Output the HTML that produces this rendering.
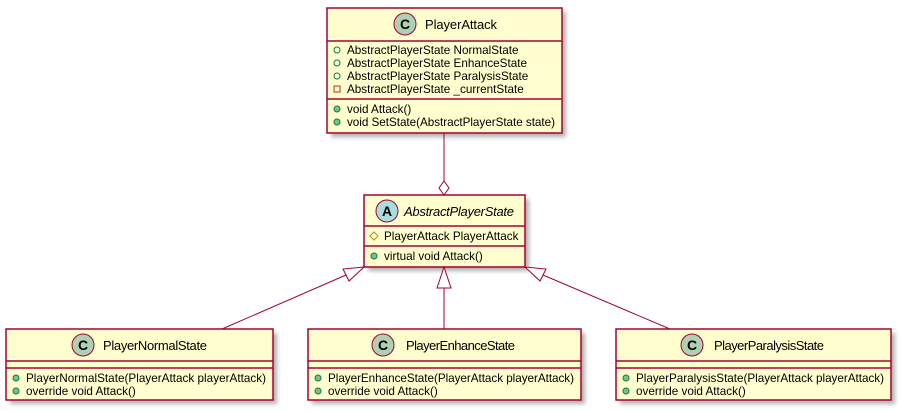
<!DOCTYPE html>
<html><head><meta charset="utf-8"><style>
html,body{margin:0;padding:0;background:#fff;width:901px;height:411px;overflow:hidden}
text{font-family:"Liberation Sans","DejaVu Sans",sans-serif;fill:#000}
.t{font-size:13px}
.m{font-size:11.7px}
</style></head><body>
<svg width="901" height="411" viewBox="0 0 901 411" xmlns="http://www.w3.org/2000/svg">
<defs><filter id="sh" x="-10%" y="-10%" width="130%" height="130%"><feGaussianBlur stdDeviation="2"/></filter></defs>
<g fill="#000" opacity="0.3" filter="url(#sh)">
<rect x="331" y="12" width="235" height="125"/>
<rect x="368" y="199" width="161" height="72"/>
<rect x="10" y="333" width="267" height="71"/>
<rect x="312" y="333" width="273" height="71"/>
<rect x="620" y="333" width="275" height="71"/>
</g>
<g fill="#FEFECE" stroke="#A80036" stroke-width="1.5">
<rect x="327" y="8" width="235" height="125"/>
<rect x="364" y="195" width="161" height="72"/>
<rect x="6" y="329" width="267" height="71"/>
<rect x="308" y="329" width="273" height="71"/>
<rect x="616" y="329" width="275" height="71"/>
</g>
<g stroke="#A80036" stroke-width="1.5">
<line x1="327" y1="41" x2="562" y2="41"/><line x1="327" y1="99" x2="562" y2="99"/>
<line x1="364" y1="226" x2="525" y2="226"/><line x1="364" y1="246" x2="525" y2="246"/>
<line x1="6" y1="361" x2="273" y2="361"/><line x1="6" y1="368" x2="273" y2="368"/>
<line x1="308" y1="361" x2="581" y2="361"/><line x1="308" y1="368" x2="581" y2="368"/>
<line x1="616" y1="361" x2="891" y2="361"/><line x1="616" y1="368" x2="891" y2="368"/>
</g>
<g stroke="#A80036" stroke-width="1" fill="none">
<line x1="444" y1="133" x2="444" y2="181"/>
<polygon points="444,195 439,188 444,181 449,188" fill="#fff"/>
<line x1="222" y1="329" x2="346" y2="275"/>
<polygon points="364,267 343,269 349,281" fill="#fff"/>
<line x1="444" y1="329" x2="444" y2="288"/>
<polygon points="444,267 437,288 451,288" fill="#fff"/>
<line x1="670" y1="329" x2="543" y2="275"/>
<polygon points="525,267 546,269 540,281" fill="#fff"/>
</g>
<g stroke="#A80036" stroke-width="1">
<circle cx="405" cy="24" r="11" fill="#ADD1B2"/>
<circle cx="387" cy="211" r="11" fill="#A9DCDF"/>
<circle cx="83" cy="345" r="11" fill="#ADD1B2"/>
<circle cx="383" cy="345" r="11" fill="#ADD1B2"/>
<circle cx="692" cy="345" r="11" fill="#ADD1B2"/>
</g>
<g text-anchor="middle">
<text x="405" y="29" style="font-size:14px;font-weight:bold">C</text>
<text x="387" y="216" style="font-size:14px;font-weight:bold">A</text>
<text x="83" y="350" style="font-size:14px;font-weight:bold">C</text>
<text x="383" y="350" style="font-size:14px;font-weight:bold">C</text>
<text x="692" y="350" style="font-size:14px;font-weight:bold">C</text>
</g>
<text class="t" x="425" y="29" textLength="72">PlayerAttack</text>
<text class="t" x="404" y="216" font-style="italic" textLength="110">AbstractPlayerState</text>
<text class="t" x="103" y="350" textLength="104">PlayerNormalState</text>
<text class="t" x="406" y="350" textLength="109">PlayerEnhanceState</text>
<text class="t" x="714" y="350" textLength="110">PlayerParalysisState</text>
<g fill="none" stroke="#038048" stroke-width="1">
<circle cx="337" cy="50" r="3"/><circle cx="337" cy="63" r="3"/><circle cx="337" cy="76" r="3"/>
</g>
<rect x="334" y="86" width="6" height="6" fill="none" stroke="#C82930"/>
<g fill="#84BE84" stroke="#038048" stroke-width="1">
<circle cx="337" cy="109" r="3"/><circle cx="337" cy="122" r="3"/>
<circle cx="374" cy="256" r="3"/>
<circle cx="16" cy="378" r="3"/><circle cx="16" cy="391" r="3"/>
<circle cx="318" cy="378" r="3"/><circle cx="318" cy="391" r="3"/>
<circle cx="626" cy="378" r="3"/><circle cx="626" cy="391" r="3"/>
</g>
<polygon points="374,232 378,236 374,240 370,236" fill="none" stroke="#B38D22"/>
<text class="m" x="347" y="54">AbstractPlayerState NormalState</text>
<text class="m" x="347" y="67">AbstractPlayerState EnhanceState</text>
<text class="m" x="347" y="80">AbstractPlayerState ParalysisState</text>
<text class="m" x="347" y="93">AbstractPlayerState _currentState</text>
<text class="m" x="347" y="113">void Attack()</text>
<text class="m" x="347" y="126" textLength="208">void SetState(AbstractPlayerState state)</text>
<text class="m" x="384" y="240">PlayerAttack PlayerAttack</text>
<text class="m" x="384" y="260">virtual void Attack()</text>
<text class="m" x="26" y="382" textLength="240">PlayerNormalState(PlayerAttack playerAttack)</text>
<text class="m" x="26" y="395">override void Attack()</text>
<text class="m" x="328" y="382" textLength="246">PlayerEnhanceState(PlayerAttack playerAttack)</text>
<text class="m" x="328" y="395">override void Attack()</text>
<text class="m" x="636" y="382" textLength="248">PlayerParalysisState(PlayerAttack playerAttack)</text>
<text class="m" x="636" y="395">override void Attack()</text>
</svg>
</body></html>
